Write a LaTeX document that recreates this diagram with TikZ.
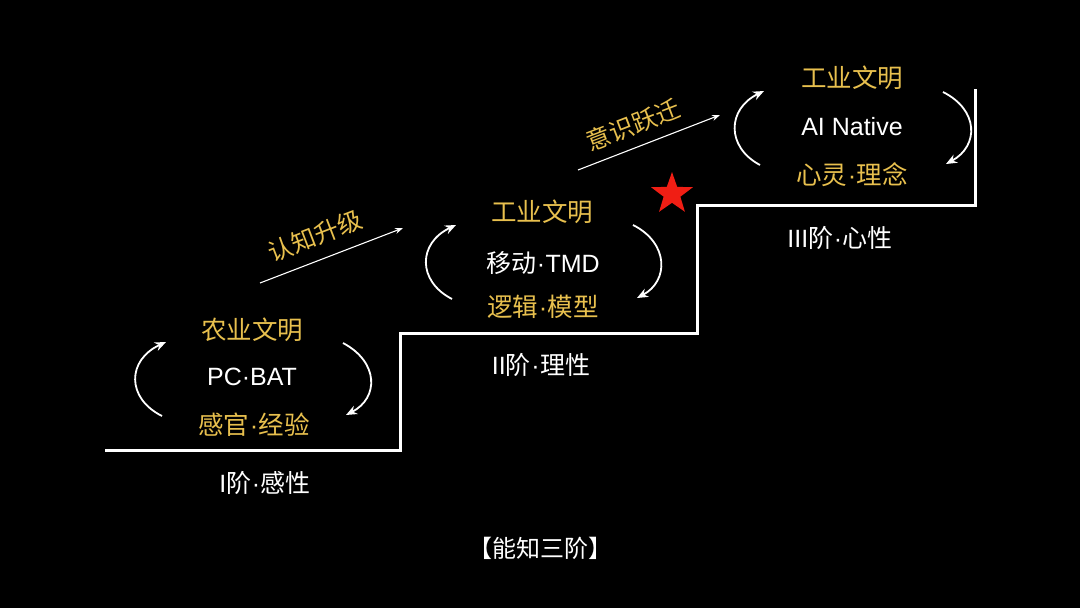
\documentclass[tikz,border=0pt]{standalone}
\usepackage{fontspec}
\setmainfont{Noto Sans CJK SC}
\newfontfamily\latf{Liberation Sans}
\newcommand{\lt}[1]{{\latf #1}}
\newcommand{\md}{{\latf\kern0.5pt·\kern0.5pt}}
\usetikzlibrary{arrows.meta,shapes.geometric}
\definecolor{gold}{RGB}{232,192,78}
\definecolor{starred}{RGB}{240,30,20}
\tikzset{
  gtxt/.style={text=gold,font=\fontsize{25.5}{28}\selectfont,inner sep=0pt},
  wtxt/.style={text=white,font=\fontsize{25}{28}\selectfont,inner sep=0pt},
  stair/.style={draw=white,line width=3pt,line join=miter},
  cyc/.style={draw=white,line width=1.8pt,-{Stealth[length=11pt,width=9pt]}},
  prog/.style={draw=white,line width=1.1pt,-{Stealth[length=8pt,width=6pt]}},
  diag/.style={text=gold,font=\fontsize{24.5}{26}\selectfont,inner sep=0pt,rotate=21}
}
\begin{document}
\begin{tikzpicture}[x=1pt,y=-1pt]
\path[fill=black,use as bounding box] (0,0) rectangle (1080,608);

% staircase
\coordinate (s0) at (105,450);
\coordinate (s1) at (400,450);
\coordinate (s2) at (400,333);
\coordinate (s3) at (697,333);
\coordinate (s4) at (697,205);
\coordinate (s5) at (975,205);
\coordinate (s6) at (975,89);
\draw[stair] (s0) -- (s1) -- (s2) -- (s3) -- (s4) -- (s5) -- (s6);

% stage I
\node[gtxt] (a1) at (252,330) {农业文明};
\node[wtxt] (b1) at (252,377) {\lt{PC·BAT}};
\node[gtxt] (c1) at (254,425) {感官\md 经验};
\node[wtxt] (d1) at (265,483) {\lt{I}阶\md 感性};
\coordinate (l1s) at (162,416); \coordinate (l1e) at (166,342);
\coordinate (r1s) at (343,343); \coordinate (r1e) at (346,415);
\draw[cyc] (l1s) .. controls (126,398) and (127,360) .. (l1e);
\draw[cyc] (r1s) .. controls (379,362) and (379,398) .. (r1e);

% stage II
\node[gtxt] (a2) at (542,212) {工业文明};
\node[wtxt] (b2) at (543,263) {移动\md\lt{TMD}};
\node[gtxt] (c2) at (543,307) {逻辑\md 模型};
\node[wtxt] (d2) at (541,365) {\lt{II}阶\md 理性};
\coordinate (l2s) at (452,299); \coordinate (l2e) at (456,225);
\coordinate (r2s) at (633,225); \coordinate (r2e) at (637,298);
\draw[cyc] (l2s) .. controls (417,281) and (418,243) .. (l2e);
\draw[cyc] (r2s) .. controls (669,243) and (669,281) .. (r2e);

% stage III
\node[gtxt] (a3) at (852,78) {工业文明};
\node[wtxt] (b3) at (852,127) {\lt{AI Native}};
\node[gtxt] (c3) at (852,175) {心灵\md 理念};
\node[wtxt] (d3) at (840,238) {\lt{III}阶\md 心性};
\coordinate (l3s) at (760,165); \coordinate (l3e) at (764,91);
\coordinate (r3s) at (943,92); \coordinate (r3e) at (946,164);
\draw[cyc] (l3s) .. controls (726,147) and (727,109) .. (l3e);
\draw[cyc] (r3s) .. controls (979,110) and (979,146) .. (r3e);

% transitions
\coordinate (t1s) at (260,283); \coordinate (t1e) at (403,228);
\draw[prog] (t1s) -- (t1e);
\node[diag] (t1) at (315,236) {认知升级};
\coordinate (t2s) at (578,170); \coordinate (t2e) at (720,115);
\draw[prog] (t2s) -- (t2e);
\node[diag] (t2) at (633,125) {意识跃迁};

% star
\node[star,star points=5,star point ratio=2.5,fill=starred,minimum size=44pt,inner sep=0pt] (st) at (672,194) {};

% caption
\node[wtxt,font=\fontsize{24}{26}\selectfont] (cap) at (540,548) {【能知三阶】};
\end{tikzpicture}
\end{document}
